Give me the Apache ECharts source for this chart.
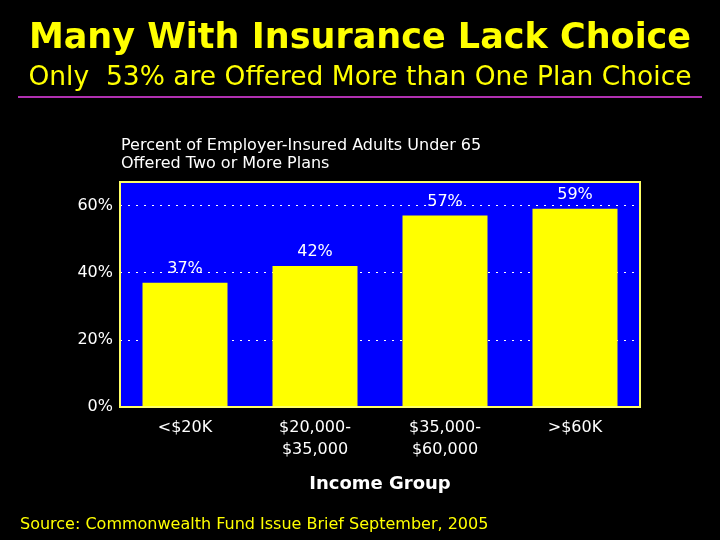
<!DOCTYPE html>
<html>
<head>
<meta charset="utf-8">
<script src="https://cdn.jsdelivr.net/npm/echarts@6/dist/echarts.min.js"></script>
<style>html,body{margin:0;padding:0;background:#000;}#c{width:720px;height:540px;}</style>
</head>
<body>
<div id="c"></div>
<script>
var categories = ['<$20K', '$20,000-\n$35,000', '$35,000-\n$60,000', '>$60K'];
var values = [37, 42, 57, 59];
var yTicks = [0, 20, 40, 60];

var chart = echarts.init(document.getElementById('c'));
var F = 'DejaVu Sans, Verdana, sans-serif';
chart.setOption({
  backgroundColor: '#000000',
  animation: false,
  title: [
    { text: 'Many With Insurance Lack Choice', left: 'center', top: 16,
      textStyle: { color: '#ffff00', fontSize: 35, fontWeight: 'bold', fontFamily: F } },
    { text: 'Only  53% are Offered More than One Plan Choice', left: 'center', top: 60,
      textStyle: { color: '#ffff00', fontSize: 26.5, fontWeight: 'normal', fontFamily: F } },
    { text: 'Percent of Employer-Insured Adults Under 65\nOffered Two or More Plans', left: 116, top: 132,
      textStyle: { color: '#ffffff', fontSize: 16, fontWeight: 'normal', fontFamily: F, lineHeight: 18 } },
    { text: 'Source: Commonwealth Fund Issue Brief September, 2005', left: 15, top: 512,
      textStyle: { color: '#ffff00', fontSize: 16, fontWeight: 'normal', fontFamily: F } }
  ],
  graphic: [
    { type: 'line', shape: { x1: 18, y1: 97, x2: 702, y2: 97 }, style: { stroke: '#b030b0', lineWidth: 2 } },
    { type: 'rect', z: 100, shape: { x: 120, y: 182, width: 520, height: 225 }, style: { fill: null, stroke: '#ffff66', lineWidth: 2 } }
  ],
  grid: { left: 120, right: 80, top: 182, bottom: 133, show: true, backgroundColor: '#0000ff', borderColor: '#ffff66', borderWidth: 1 },
  xAxis: {
    type: 'category', data: categories,
    name: 'Income Group', nameLocation: 'middle', nameGap: 68,
    nameTextStyle: { color: '#ffffff', fontSize: 18, fontWeight: 'bold', fontFamily: F },
    axisLine: { show: false }, axisTick: { show: false },
    axisLabel: { color: '#ffffff', fontSize: 16, fontFamily: F, margin: 10, lineHeight: 22 }
  },
  yAxis: {
    type: 'value', min: 0, max: 67, interval: 20,
    axisLine: { show: false }, axisTick: { show: false },
    axisLabel: { color: '#ffffff', fontSize: 16, fontFamily: F, margin: 7,
      formatter: function (v) { return yTicks.indexOf(v) >= 0 ? v + '%' : ''; } },
    splitLine: { show: true, lineStyle: { color: '#ffffff', type: [2, 6], width: 1 } }
  },
  series: [{
    type: 'bar', data: values, barWidth: 85,
    itemStyle: { color: '#ffff00' },
    label: { show: true, position: 'top', distance: 6, color: '#ffffff', fontSize: 16, fontFamily: F,
      formatter: '{c}%' }
  }]
});
</script>
</body>
</html>
